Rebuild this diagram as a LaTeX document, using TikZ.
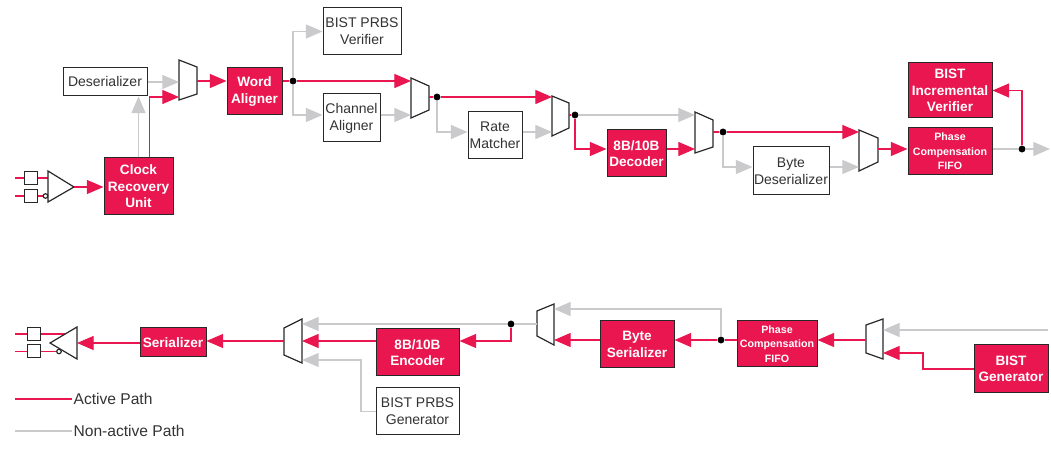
\documentclass[tikz,border=0pt]{standalone}
\usepackage{fontspec}
\setmainfont{Liberation Sans}
\usetikzlibrary{arrows.meta}
\definecolor{actred}{RGB}{233,22,80}
\definecolor{offgray}{RGB}{202,202,204}
\definecolor{boxline}{RGB}{40,40,40}
\tikzset{
  blk/.style={draw=boxline,line width=0.75pt,fill=white,text=black!80,inner sep=0pt,align=center,font=\fontsize{10.5}{12.75}\selectfont},
  redblk/.style={blk,fill=actred,text=white,font=\fontsize{10.2}{12.4}\selectfont\bfseries},
  smallred/.style={redblk,font=\fontsize{8}{11}\selectfont\bfseries},
  act/.style={draw=actred,line width=0.9pt},
  off/.style={draw=offgray,line width=0.9pt},
  actarr/.style={act,-{Triangle[length=12.5pt,width=10.5pt]}},
  offarr/.style={off,-{Triangle[length=12.5pt,width=10.5pt]}},
  dot/.style={circle,fill=black,inner sep=0pt,minimum size=5.2pt},
  mux/.style={draw=boxline,line width=0.9pt,fill=white},
  pad/.style={draw=boxline,line width=0.75pt,fill=white,minimum size=9.75pt,inner sep=0pt},
  legend/.style={anchor=west,inner sep=1pt,text=black!80,font=\fontsize{11.7}{14}\selectfont}
}
\begin{document}
\begin{tikzpicture}[x=0.75pt,y=-0.75pt]
    \useasboundingbox (0,0) rectangle (1051,459);
    \node[blk,minimum width=63pt,minimum height=21pt] (deser) at (105,82) {Deserializer};
    \node[redblk,minimum width=51.75pt,minimum height=42.75pt] (cru) at (138.5,186.5) {Clock\\Recovery\\Unit};
    \node[redblk,minimum width=41.25pt,minimum height=35.25pt] (wal) at (254.5,91.5) {Word\\Aligner};
    \node[blk,minimum width=58.5pt,minimum height=35.25pt] (prbsv) at (362,31.5) {BIST PRBS\\Verifier};
    \node[blk,minimum width=42.75pt,minimum height=36pt] (chal) at (351.5,118) {Channel\\Aligner};
    \node[blk,minimum width=40.5pt,minimum height=35.25pt] (rmat) at (495,135.5) {Rate\\Matcher};
    \node[redblk,minimum width=44.25pt,minimum height=35.25pt] (dec) at (636.5,153.5) {8B/10B\\Decoder};
    \node[blk,minimum width=57pt,minimum height=36pt] (bdes) at (791,171) {Byte\\Deserializer};
    \node[smallred,minimum width=63pt,minimum height=35.25pt] (rxfifo) at (950,151.5) {Phase\\Compensation\\FIFO};
    \node[redblk,minimum width=63pt,minimum height=41.25pt] (incv) at (950,90.5) {BIST\\Incremental\\Verifier};
    \node[redblk,minimum width=49.5pt,minimum height=21.75pt] (ser) at (173,342.5) {Serializer};
    \node[redblk,minimum width=62.25pt,minimum height=35.25pt] (enc) at (417.5,352.5) {8B/10B\\Encoder};
    \node[blk,minimum width=62.25pt,minimum height=35.25pt] (prbsg) at (417.5,411.5) {BIST PRBS\\Generator};
    \node[redblk,minimum width=55.5pt,minimum height=35.25pt] (bser) at (637,344.5) {Byte\\Serializer};
    \node[smallred,minimum width=60pt,minimum height=34.5pt] (txfifo) at (777,344) {Phase\\Compensation\\FIFO};
    \node[redblk,minimum width=55.5pt,minimum height=36pt] (bgen) at (1011,369) {BIST\\Generator};

    \foreach \l/\r/\lt/\lb/\rt/\rb in {179/197/60/100/67/94, 411/429/78/118/86/110, 552/569/96/136/103/128,
        695/713/112/153/120/147, 859/878/130/171/138/162, 284/302/328/355/319/363,
        537/554/311/336/304/345, 866/883/325/353/319/359}
        \draw[mux] (\l,\lt) -- (\r,\rt) -- (\r,\rb) -- (\l,\lb) -- cycle;

    \coordinate (m1a) at (179,82); \coordinate (m1b) at (179,97); \coordinate (m1o) at (197,81);
    \coordinate (m2a) at (411,81); \coordinate (m2b) at (411,115); \coordinate (m2o) at (429,97);
    \coordinate (m3a) at (552,97); \coordinate (m3b) at (552,132); \coordinate (m3o) at (569,115);
    \coordinate (m4a) at (695,115); \coordinate (m4b) at (695,149); \coordinate (m4o) at (713,132);
    \coordinate (m5a) at (859,132); \coordinate (m5b) at (859,167); \coordinate (m5o) at (878,149);
    \coordinate (m6o) at (284,341); \coordinate (m6a) at (302,324); \coordinate (m6b) at (302,341); \coordinate (m6c) at (302,360);
    \coordinate (m7o) at (537,324); \coordinate (m7a) at (554,309); \coordinate (m7b) at (554,340);
    \coordinate (m8o) at (866,340); \coordinate (m8a) at (883,330); \coordinate (m8b) at (883,353);
    \coordinate (m6k) at (361,360); \coordinate (m8k) at (923,353);
    \coordinate (rxbuf) at (74,187); \coordinate (txbuf) at (77,343);
    \coordinate (rxout) at (1050,149); \coordinate (txin) at (1048,330);

    \node[dot] (d1) at (293,81) {};
    \node[dot] (d2) at (437,97) {};
    \node[dot] (d3) at (575,115) {};
    \node[dot] (d4) at (723,132) {};
    \node[dot] (d5) at (1022,149) {};
    \node[dot] (d6) at (511,324) {};
    \node[dot] (d7) at (721,340) {};

    \node[pad] (rp) at (31,178) {};
    \node[pad] (rn) at (31,196) {};
    \draw[act] (15,178) -- (rp) -- (48,178);
    \draw[act] (15,196) -- (rn) -- (43.5,196);
    \draw[mux] (48,171) -- (74,187) -- (48,202) -- cycle;
    \draw[mux] (45.5,196) circle[radius=1.7pt];

    \draw[actarr] (rxbuf) -- (cru.west |- rxbuf);
    \draw[offarr] (cru.north) -- (cru.north |- deser.south);
    \draw[actarr] ([xshift=8pt]cru.north) |- (m1b);
    \draw[offarr] (deser.east) -- (m1a);
    \draw[actarr] (m1o) -- (wal.west |- m1o);
    \draw[act] (wal.east |- d1) -- (d1);
    \draw[offarr] (d1) |- (prbsv.west);
    \draw[actarr] (d1) -- (m2a);
    \draw[offarr] (d1) |- (chal.west |- m2b);
    \draw[offarr] (chal.east |- m2b) -- (m2b);
    \draw[act] (m2o) -- (d2);
    \draw[actarr] (d2) -- (m3a);
    \draw[offarr] (d2) |- (rmat.west |- m3b);
    \draw[offarr] (rmat.east |- m3b) -- (m3b);
    \draw[act] (m3o) -- (d3);
    \draw[offarr] (d3) -- (m4a);
    \draw[actarr] (d3) |- (dec.west |- m4b);
    \draw[actarr] (dec.east |- m4b) -- (m4b);
    \draw[act] (m4o) -- (d4);
    \draw[actarr] (d4) -- (m5a);
    \draw[offarr] (d4) |- (bdes.west |- m5b);
    \draw[offarr] (bdes.east |- m5b) -- (m5b);
    \draw[actarr] (m5o) -- (rxfifo.west |- m5o);
    \draw[off] (rxfifo.east |- d5) -- (d5);
    \draw[offarr] (d5) -- (rxout);
    \draw[actarr] (d5) |- (incv.east);

    \draw[offarr] (txin) -- (m8a);
    \draw[actarr] (bgen.west) -| (m8k) -- (m8b);
    \draw[actarr] (m8o) -- (txfifo.east |- m8o);
    \draw[act] (txfifo.west |- d7) -- (d7);
    \draw[actarr] (d7) -- (bser.east |- d7);
    \draw[offarr] (d7) |- (m7a);
    \draw[actarr] (bser.west |- m7b) -- (m7b);
    \draw[off] (m7o) -- (d6);
    \draw[offarr] (d6) -- (m6a);
    \draw[actarr] (d6) |- (enc.east |- m6b);
    \draw[actarr] (enc.west |- m6b) -- (m6b);
    \draw[offarr] (prbsg.west) -| (m6k) -- (m6c);
    \draw[actarr] (m6o) -- (ser.east |- m6o);
    \draw[actarr] (ser.west |- txbuf) -- (txbuf);

    \node[pad] (tp) at (33.5,334) {};
    \node[pad] (tn) at (33.5,351.5) {};
    \draw[act] (15,334) -- (tp) -- (65,334);
    \draw[act] (15,351.5) -- (tn) -- (56.7,351.5);
    \draw[mux] (77,327) -- (50,343) -- (77,359) -- cycle;
    \draw[mux] (59,351.5) circle[radius=1.7pt];

    \node[legend] (lact) at (72,399) {Active Path};
    \node[legend] (loff) at (72,431) {Non-active Path};
    \draw[act] (lact.west) -- ++(-57,0);
    \draw[off] (loff.west) -- ++(-57,0);
\end{tikzpicture}
\end{document}
